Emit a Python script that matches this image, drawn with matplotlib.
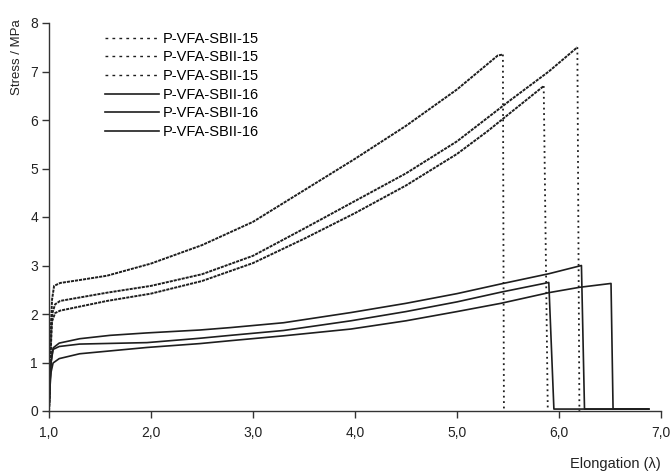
import matplotlib
matplotlib.use("Agg")
import matplotlib.pyplot as plt
from matplotlib.lines import Line2D

plt.rcParams['font.family'] = ['Liberation Sans', 'DejaVu Sans']

# ---- data: P-VFA-SBII-15 (dotted) ----
d1_x = [1.0, 1.01, 1.02, 1.03, 1.05, 1.11, 1.3, 1.57, 2.0, 2.5, 3.0, 3.5, 4.0, 4.5, 5.0, 5.2, 5.4, 5.45, 5.46]
d1_y = [0.0, 0.9, 1.8, 2.3, 2.58, 2.64, 2.70, 2.79, 3.04, 3.42, 3.90, 4.55, 5.20, 5.88, 6.63, 6.98, 7.33, 7.35, 0.0]

d2_x = [1.0, 1.01, 1.02, 1.03, 1.06, 1.11, 1.57, 2.0, 2.5, 3.0, 3.5, 4.0, 4.5, 5.0, 5.53, 5.9, 6.18, 6.2]
d2_y = [0.0, 0.8, 1.6, 2.0, 2.2, 2.27, 2.44, 2.58, 2.82, 3.20, 3.76, 4.33, 4.90, 5.56, 6.42, 7.0, 7.5, 0.0]

d3_x = [1.0, 1.01, 1.02, 1.03, 1.06, 1.11, 1.57, 2.0, 2.5, 3.0, 3.5, 4.0, 4.5, 5.0, 5.3, 5.53, 5.85, 5.89]
d3_y = [0.0, 0.7, 1.4, 1.85, 2.02, 2.07, 2.27, 2.42, 2.68, 3.05, 3.55, 4.08, 4.65, 5.30, 5.77, 6.16, 6.70, 0.0]

# ---- data: P-VFA-SBII-16 (solid) ----
s1_x = [1.0, 1.01, 1.02, 1.04, 1.1, 1.3, 1.6, 1.96, 2.48, 2.78, 3.3, 3.96, 4.5, 5.0, 5.43, 5.9, 6.22, 6.25, 6.88]
s1_y = [0.0, 0.6, 1.0, 1.3, 1.4, 1.49, 1.56, 1.61, 1.67, 1.72, 1.82, 2.03, 2.22, 2.42, 2.62, 2.83, 3.0, 0.04, 0.04]

s2_x = [1.0, 1.01, 1.02, 1.04, 1.1, 1.3, 1.96, 2.48, 2.78, 3.3, 3.96, 4.5, 5.0, 5.43, 5.9, 5.95, 6.88]
s2_y = [0.0, 0.6, 1.0, 1.27, 1.33, 1.38, 1.41, 1.5, 1.56, 1.66, 1.86, 2.05, 2.25, 2.45, 2.65, 0.04, 0.04]

s3_x = [1.0, 1.01, 1.02, 1.04, 1.1, 1.3, 1.96, 2.48, 2.78, 3.3, 3.96, 4.5, 5.0, 5.43, 5.9, 6.2, 6.51, 6.53, 6.88]
s3_y = [0.0, 0.5, 0.8, 0.99, 1.08, 1.18, 1.31, 1.39, 1.45, 1.55, 1.69, 1.86, 2.05, 2.22, 2.44, 2.55, 2.63, 0.04, 0.04]

labels = ['P-VFA-SBII-15', 'P-VFA-SBII-15', 'P-VFA-SBII-15',
          'P-VFA-SBII-16', 'P-VFA-SBII-16', 'P-VFA-SBII-16']
x_ticks = [1, 2, 3, 4, 5, 6, 7]
x_ticklabels = ['1,0', '2,0', '3,0', '4,0', '5,0', '6,0', '7,0']
y_ticks = [0, 1, 2, 3, 4, 5, 6, 7, 8]

col = '#1e1e1e'
fig = plt.figure(figsize=(6.71, 4.74), dpi=100)
ax = fig.add_axes([49/671, 1 - 411/474, 612/671, 388/474])

for xs, ys in [(d1_x, d1_y), (d2_x, d2_y), (d3_x, d3_y)]:
    ax.plot(xs[:-1], ys[:-1], color=col, lw=1.4, linestyle=(0, (1.6, 0.5)))
    ax.plot(xs[-2:], ys[-2:], color=col, lw=1.3, linestyle=(0, (1, 2)))
for xs, ys in [(s1_x, s1_y), (s2_x, s2_y), (s3_x, s3_y)]:
    ax.plot(xs, ys, color=col, lw=1.2)

ax.set_xlim(1, 7)
ax.set_ylim(0, 8)
ax.set_xticks(x_ticks)
ax.set_xticklabels(x_ticklabels)
ax.set_yticks(y_ticks)
for s in ['top', 'right']:
    ax.spines[s].set_visible(False)
for s in ['left', 'bottom']:
    ax.spines[s].set_color('#333333')
    ax.spines[s].set_linewidth(1.0)
ax.tick_params(axis='both', direction='out', length=5, width=1.0, color='#333333',
               labelsize=10, labelcolor='#222222')
ax.tick_params(axis='y', pad=3)
ax.tick_params(axis='x', pad=6)

handles = [Line2D([], [], color=col, lw=1.0, linestyle=(0, (2, 3))) for _ in range(3)] + \
          [Line2D([], [], color=col, lw=1.2) for _ in range(3)]
ax.legend(handles, labels, loc='upper left', bbox_to_anchor=(0.086, 0.985),
          frameon=False, fontsize=10.5, handlelength=3.7, handletextpad=0.3,
          labelspacing=0.32, borderpad=0.2, borderaxespad=0)

fig.text(17.5/671, 1 - 57/474, 'Stress / MPa', rotation=90, ha='center', va='center',
         fontsize=9.5, color='#222222')
fig.text(615/671, 1 - 464/474, 'Elongation (λ)', ha='center', va='center',
         fontsize=10.5, color='#222222')

fig.savefig('out.png', dpi=100)
